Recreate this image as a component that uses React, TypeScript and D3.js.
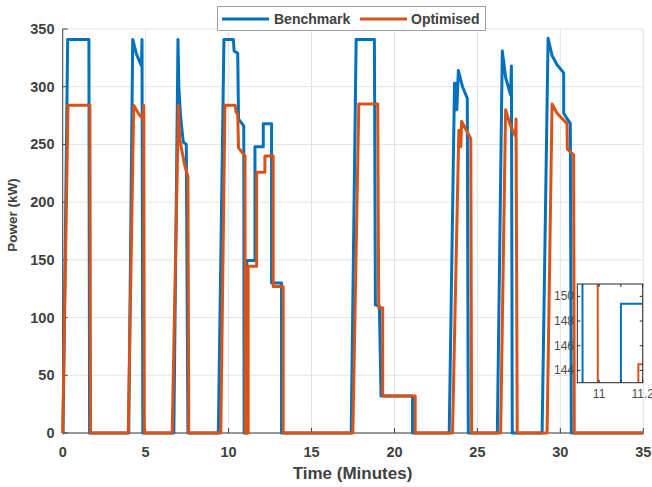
import React from "react";
import * as d3 from "d3";

// power profiles (minutes, kW)
const benchTime = [
  0, 0.02, 0.3, 1.58, 1.62, 3.98, 4.22, 4.45, 4.75, 4.78, 4.83, 6.7, 6.95, 7.0, 7.1, 7.27, 7.45, 7.55,
  9.38, 9.72, 10.29, 10.33, 10.55, 10.6, 10.915, 10.935, 11.1, 11.1, 11.59, 11.59, 12.09, 12.09, 12.59, 12.59,
  13.19, 13.19, 17.39, 17.69, 18.79, 18.85, 19.09, 19.19, 21.09, 21.09, 23.3, 23.62, 23.68, 23.7, 23.76,
  23.85, 24.1, 24.39, 24.45, 26.2, 26.5, 26.7, 27.0, 27.05, 27.1, 28.9, 29.26, 29.5, 29.8, 30.2, 30.2,
  30.6, 30.66, 35,
];
const benchPower = [
  0, 0, 341, 341, 0, 0, 341, 328, 318, 341, 0, 0, 341, 300, 275, 252, 250, 0,
  0, 341, 341, 331, 329, 272, 266, 0, 0, 149.4, 149.4, 248, 248, 268, 268, 130,
  130, 0, 0, 341, 341, 111, 110, 32, 32, 0, 0, 303, 303, 280, 280,
  314, 300, 290, 0, 0, 331, 308, 293, 318, 0, 0, 342, 327, 319, 312, 277,
  268, 0, 0,
];
const optTime = [
  0, 0.32, 1.64, 1.68, 3.95, 4.28, 4.6, 4.85, 4.88, 4.92, 6.6, 6.98, 7.05, 7.35, 7.55, 7.6,
  9.53, 9.78, 10.39, 10.45, 10.55, 10.6, 10.99, 11.0, 11.18, 11.18, 11.69, 11.69, 12.19, 12.19, 12.69, 12.69,
  13.29, 13.29, 17.49, 17.85, 18.99, 19.05, 19.29, 19.29, 21.25, 21.25, 23.5, 23.88, 23.95, 24.0, 24.05,
  24.6, 24.65, 26.4, 26.7, 27.0, 27.3, 27.33, 27.4, 29.2, 29.5, 29.8, 30.4, 30.42, 30.8, 30.84, 35,
];
const optPower = [
  0, 284, 284, 0, 0, 284, 276, 272, 284, 0, 0, 284, 255, 232, 222, 0,
  0, 284, 284, 278, 276, 247, 240, 0, 0, 144.5, 144.5, 226, 226, 240, 240, 127,
  127, 0, 0, 285, 285, 108.5, 108.5, 32, 32, 0, 0, 262, 262, 248, 270,
  255, 0, 0, 280, 266, 257, 272, 0, 0, 285, 277, 268, 246, 241, 0, 0,
];

const xTicks = [0, 5, 10, 15, 20, 25, 30, 35];
const yTicks = [0, 50, 100, 150, 200, 250, 300, 350];
const insetXTicks = [11, 11.1, 11.2];
const insetXLabels = ["11", "", "11.2"];
const insetYTicks = [144, 146, 148, 150];

const BLUE = "#0072BD";
const ORANGE = "#D95319";
const TEXT = "#404040";
const FONT = "'Liberation Sans', Arial, sans-serif";

type Pt = [number, number];
const zip = (t: number[], p: number[]): Pt[] => t.map((v, i) => [v, p[i]]);

const App = () => {
  const width = 652;
  const height = 487;
  const plot = { left: 62.7, right: 643.3, top: 29, bottom: 433 };

  const x = d3.scaleLinear().domain([0, 35]).range([plot.left, plot.right]);
  const y = d3.scaleLinear().domain([0, 350]).range([plot.bottom, plot.top]);

  const line = d3
    .line<Pt>()
    .x((d) => x(d[0]))
    .y((d) => y(d[1]));

  const bench = zip(benchTime, benchPower);
  const opt = zip(optTime, optPower);

  // zoomed inset
  const inset = { left: 577.3, right: 642.7, top: 284, bottom: 382.7 };
  const ix = d3.scaleLinear().domain([10.9, 11.2]).range([inset.left, inset.right]);
  const iy = d3.scaleLinear().domain([143, 151]).range([inset.bottom, inset.top]);
  const insetLine = d3
    .line<Pt>()
    .x((d) => ix(d[0]))
    .y((d) => iy(d[1]));

  return (
    <svg
      width={width}
      height={height}
      style={{ position: "absolute", left: 0, top: 0, background: "#fff" }}
      fontFamily={FONT}
    >
      <defs>
        <clipPath id="insetClip">
          <rect
            x={inset.left}
            y={inset.top}
            width={inset.right - inset.left}
            height={inset.bottom - inset.top}
          />
        </clipPath>
      </defs>

      {/* grid */}
      <g stroke="#e3e3e3" strokeWidth={1}>
        {xTicks.map((t) => (
          <line key={"gx" + t} x1={x(t)} x2={x(t)} y1={plot.top} y2={plot.bottom} />
        ))}
        {yTicks.map((t) => (
          <line key={"gy" + t} x1={plot.left} x2={plot.right} y1={y(t)} y2={y(t)} />
        ))}
      </g>

      {/* axes */}
      <g stroke="#404040" strokeWidth={1}>
        <line x1={plot.left} x2={plot.left} y1={plot.top} y2={plot.bottom} />
        <line x1={plot.left} x2={plot.right} y1={plot.bottom} y2={plot.bottom} />
        {xTicks.map((t) => (
          <line key={"tx" + t} x1={x(t)} x2={x(t)} y1={plot.bottom} y2={plot.bottom - 5} />
        ))}
        {yTicks.map((t) => (
          <line key={"ty" + t} x1={plot.left} x2={plot.left + 5} y1={y(t)} y2={y(t)} />
        ))}
      </g>
      <g fill={TEXT} fontSize={14.5} fontWeight="bold">
        {xTicks.map((t) => (
          <text key={"lx" + t} x={x(t)} y={456.5} textAnchor="middle">
            {t}
          </text>
        ))}
        {yTicks.map((t) => (
          <text key={"ly" + t} x={54.5} y={y(t) + 5} textAnchor="end">
            {t}
          </text>
        ))}
      </g>
      <text
        x={352.5}
        y={479}
        textAnchor="middle"
        fontSize={17}
        fontWeight="bold"
        fill={TEXT}
      >
        Time (Minutes)
      </text>
      <text
        transform="translate(17,215) rotate(-90)"
        textAnchor="middle"
        fontSize={13.5}
        fontWeight="bold"
        fill={TEXT}
      >
        Power (kW)
      </text>

      {/* series */}
      <path d={line(bench) ?? ""} fill="none" stroke={BLUE} strokeWidth={3} strokeLinejoin="round" />
      <path d={line(opt) ?? ""} fill="none" stroke={ORANGE} strokeWidth={3} strokeLinejoin="round" />

      {/* legend */}
      <g>
        <rect x={217.5} y={6.5} width={268} height={24} fill="#fff" stroke="#a0a0a0" strokeWidth={1} />
        <line x1={222} x2={269} y1={19} y2={19} stroke={BLUE} strokeWidth={3} />
        <text x={274} y={24} fontSize={14} fontWeight="bold" fill={TEXT}>
          Benchmark
        </text>
        <line x1={360} x2={407} y1={19} y2={19} stroke={ORANGE} strokeWidth={3} />
        <text x={411} y={24} fontSize={14} fontWeight="bold" fill={TEXT}>
          Optimised
        </text>
      </g>

      {/* inset */}
      <rect
        x={inset.left}
        y={inset.top}
        width={inset.right - inset.left}
        height={inset.bottom - inset.top}
        fill="#fff"
      />
      <g clipPath="url(#insetClip)">
        <path d={insetLine(bench) ?? ""} fill="none" stroke={BLUE} strokeWidth={2} />
        <path d={insetLine(opt) ?? ""} fill="none" stroke={ORANGE} strokeWidth={2} />
      </g>
      <g stroke="#262626" strokeWidth={1}>
        <rect
          x={inset.left}
          y={inset.top}
          width={inset.right - inset.left}
          height={inset.bottom - inset.top}
          fill="none"
        />
        {insetXTicks.map((t) => (
          <g key={"itx" + t}>
            <line x1={ix(t)} x2={ix(t)} y1={inset.bottom} y2={inset.bottom - 3} />
            <line x1={ix(t)} x2={ix(t)} y1={inset.top} y2={inset.top + 3} />
          </g>
        ))}
        {insetYTicks.map((t) => (
          <g key={"ity" + t}>
            <line x1={inset.left} x2={inset.left + 3} y1={iy(t)} y2={iy(t)} />
            <line x1={inset.right} x2={inset.right - 3} y1={iy(t)} y2={iy(t)} />
          </g>
        ))}
      </g>
      <g fill="#4d4d4d" fontSize={12}>
        {insetXTicks.map((t, i) => (
          <text key={"ilx" + t} x={ix(t)} y={398} textAnchor="middle">
            {insetXLabels[i]}
          </text>
        ))}
        {insetYTicks.map((t) => (
          <text key={"ily" + t} x={574} y={iy(t) + 4} textAnchor="end">
            {t}
          </text>
        ))}
      </g>
    </svg>
  );
};

export default App;
